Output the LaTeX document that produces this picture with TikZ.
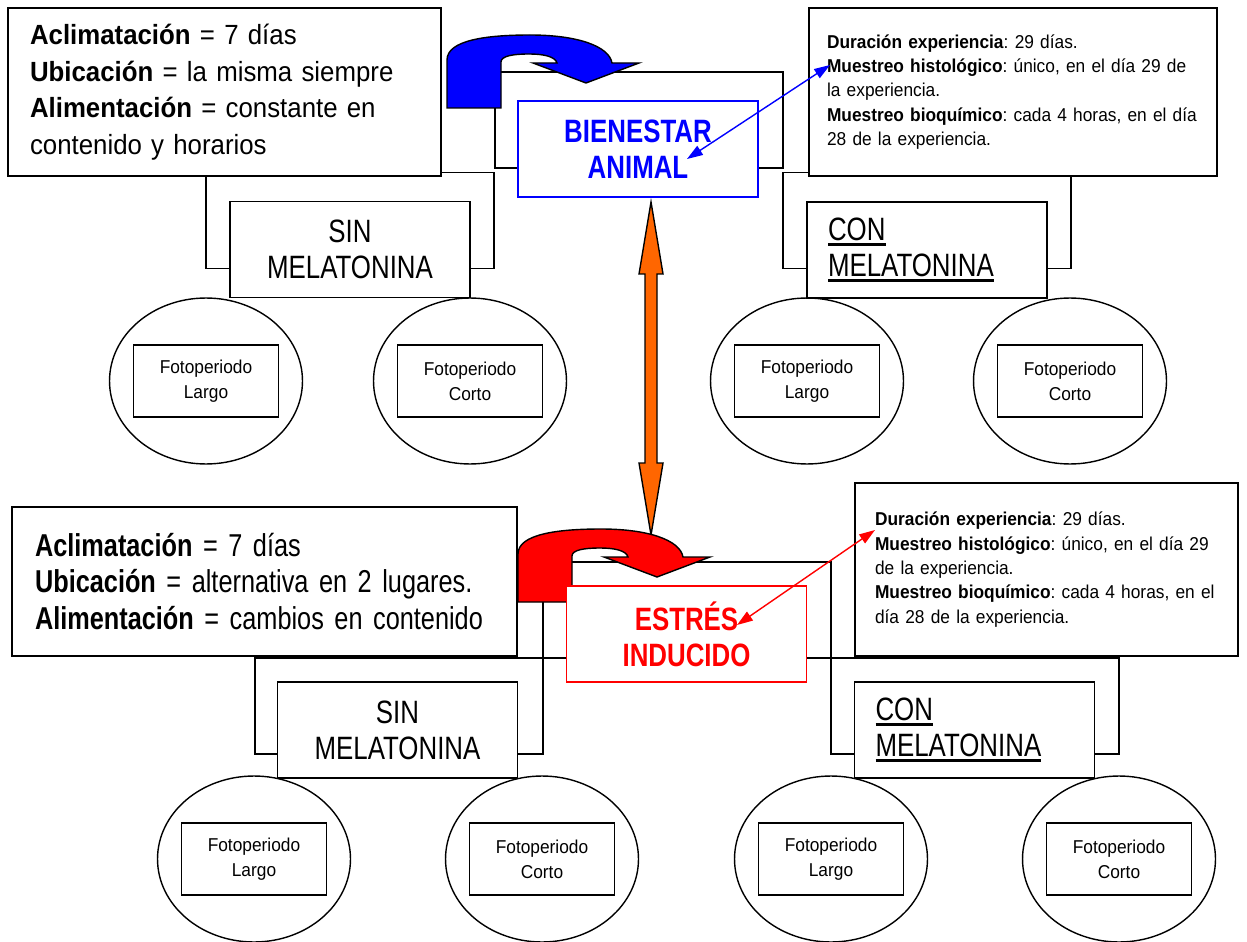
\documentclass[tikz,border=0pt]{standalone}
\usepackage{fontspec}
\setmainfont[FakeStretch=0.93]{Liberation Sans}
\newfontfamily\narrowfont[FakeStretch=0.8]{Liberation Sans}
\usepackage{xcolor}
\usetikzlibrary{shapes,arrows.meta,positioning,calc}
\definecolor{orangeA}{HTML}{FF6600}
\newcommand{\ulin}[1]{\vtop{\hbox{#1}\kern1.3pt\hrule height 1.4pt}}
\frenchspacing

\tikzset{
    uturn/.pic={
        \path[pic actions, draw=black, line width=0.8pt]
            (0,0) -- (0,-48) .. controls (0,-68) and (40,-73) .. (83,-73)
            .. controls (130,-73) and (162,-62) .. (165,-45)
            -- (192,-45) -- (139,-25) -- (86,-45) -- (110,-45)
            .. controls (108,-52) and (95,-54) .. (82,-54)
            .. controls (66,-54) and (54,-52) .. (54,-46) -- (54,0) -- cycle;
    }
}

\begin{document}
\begin{tikzpicture}[
    x=0.02cm, y=-0.02cm,
    frame/.style={rectangle, draw, line width=0.7pt, minimum width=5.76cm, minimum height=1.92cm, inner sep=0pt},
    notebox/.style={rectangle, draw, line width=1pt, fill=white, align=left, inner ysep=0pt},
    groupbox/.style={rectangle, draw, line width=0.8pt, fill=white, minimum width=4.8cm, minimum height=1.92cm, inner sep=0pt, align=center, font=\narrowfont\fontsize{18.4}{20.6}\selectfont},
    conbox/.style={groupbox, align=left, text width=3.96cm, inner xsep=0.42cm},
    statebox/.style={groupbox, line width=0.7pt, font=\narrowfont\bfseries\fontsize{18.4}{20.6}\selectfont},
    circ/.style={ellipse, draw, line width=0.8pt, minimum width=3.86cm, minimum height=3.32cm, inner sep=0pt},
    fotobox/.style={rectangle, draw, line width=0.8pt, minimum width=2.9cm, minimum height=1.44cm, inner sep=0pt, align=center, font=\fontsize{10.6}{14.2}\selectfont},
    link/.style={<->, line width=0.8pt, >={Triangle[length=9pt,width=6pt]}},
    bigarrow/.style={draw, line width=0.8pt, fill=orangeA}
]
\useasboundingbox (0,0) rectangle (1247,942);

% top group: bienestar animal
\node[frame] (frbien) at (639,120) {};
\node[frame] (frsin1) at (350,220.5) {};
\node[frame] (frcon1) at (927,220.5) {};
\pic[fill=blue] (turnbien) at (447,108) {uturn};

\node[notebox, minimum width=8.66cm, minimum height=3.36cm, text width=7.78cm, inner xsep=0.44cm, font=\fontsize{15.8}{20.8}\selectfont] (clima1) at (224.5,92)
    {\textbf{Aclimatación} = 7 días\\
     \textbf{Ubicación} = la misma siempre\\
     \textbf{Alimentación} = constante en\\
     contenido y horarios};
\node[notebox, minimum width=8.16cm, minimum height=3.36cm, text width=7.44cm, inner xsep=0.36cm, font=\fontsize{10.6}{13.9}\selectfont] (muestreo1) at (1013,92)
    {\textbf{Duración experiencia}: 29 días.\\
     \textbf{Muestreo histológico}: único, en el día 29 de\\
     la experiencia.\\
     \textbf{Muestreo bioquímico}: cada 4 horas, en el día\\
     28 de la experiencia.};
\node[statebox, draw=blue, text=blue] (bien) at (638,149) {BIENESTAR\\ANIMAL};
\node[groupbox] (sin1) at (350,249.5) {SIN\\MELATONINA};
\node[conbox] (con1) at (927,250) {\ulin{CON}\\\ulin{MELATONINA}};

\node[circ] (c1) at (206,381) {};
\node[fotobox] (f1) at (c1) {Fotoperiodo\\Largo};
\node[circ] (c2) at (470,381) {};
\node[fotobox] (f2) at (c2) {Fotoperiodo\\Corto};
\node[circ] (c3) at (807,381) {};
\node[fotobox] (f3) at (c3) {Fotoperiodo\\Largo};
\node[circ] (c4) at (1070,381) {};
\node[fotobox] (f4) at (c4) {Fotoperiodo\\Corto};

% bottom group: estres inducido
\node[frame] (frestres) at (687,610) {};
\node[frame] (frsin2) at (399,706) {};
\node[frame] (frcon2) at (975,706) {};

\coordinate (otop) at (651,202);
\coordinate (obot) at (651,535);
\draw[bigarrow] (otop) -- ++(12,72) -- ++(-6,0) -- ($(obot)+(6,-72)$) -- ++(6,0) -- (obot)
    -- ++(-12,-72) -- ++(6,0) -- ($(otop)+(-6,72)$) -- ++(-6,0) -- cycle;
\pic[fill=red] (turnestres) at (518,602) {uturn};

\node[notebox, minimum width=10.1cm, minimum height=2.98cm, text width=9.18cm, inner xsep=0.46cm, font=\narrowfont\fontsize{18}{20.8}\selectfont] (clima2) at (264.5,581.5)
    {\textbf{Aclimatación} = 7 días\\
     \textbf{Ubicación} = alternativa en 2 lugares.\\
     \textbf{Alimentación} = cambios en contenido};
\node[notebox, minimum width=7.66cm, minimum height=3.46cm, text width=6.86cm, inner xsep=0.4cm, font=\fontsize{10.6}{13.9}\selectfont] (muestreo2) at (1046.5,569.5)
    {\textbf{Duración experiencia}: 29 días.\\
     \textbf{Muestreo histológico}: único, en el día 29\\
     de la experiencia.\\
     \textbf{Muestreo bioquímico}: cada 4 horas, en el\\
     día 28 de la experiencia.};
\node[statebox, draw=red, text=red] (estres) at (686.5,634) {ESTRÉS\\INDUCIDO};
\node[groupbox] (sin2) at (397.5,730) {SIN\\MELATONINA};
\node[conbox] (con2) at (974.5,730) {\ulin{CON}\\\ulin{MELATONINA}};

\node[circ] (c5) at (254,859) {};
\node[fotobox] (f5) at (c5) {Fotoperiodo\\Largo};
\node[circ] (c6) at (542,859) {};
\node[fotobox] (f6) at (c6) {Fotoperiodo\\Corto};
\node[circ] (c7) at (831,859) {};
\node[fotobox] (f7) at (c7) {Fotoperiodo\\Largo};
\node[circ] (c8) at (1119,859) {};
\node[fotobox] (f8) at (c8) {Fotoperiodo\\Corto};

% links to the sampling notes
\coordinate (bienpt) at (687,159);
\coordinate (note1pt) at (830,65);
\draw[link, blue] (bienpt) -- (note1pt);
\coordinate (estrespt) at (737,625);
\coordinate (note2pt) at (875,530);
\draw[link, red] (estrespt) -- (note2pt);
\end{tikzpicture}
\end{document}
